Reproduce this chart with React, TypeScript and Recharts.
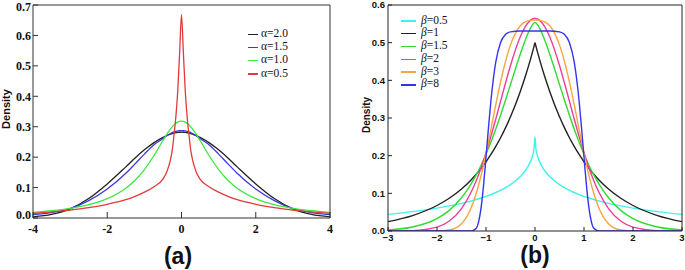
import { LineChart, Line, XAxis, YAxis, Legend } from 'recharts'

// (a) stable densities
const xA = [-4, -3.5, -3, -2.5, -2, -1.5, -1.25, -1, -0.75, -0.5, -0.4, -0.3, -0.25, -0.2, -0.15, -0.1, -0.05, 0,
  0.05, 0.1, 0.15, 0.2, 0.25, 0.3, 0.4, 0.5, 0.75, 1, 1.25, 1.5, 2, 2.5, 3, 3.5, 4]
const alpha20 = [0.004, 0.012, 0.03, 0.064, 0.112, 0.168, 0.197, 0.224, 0.247, 0.265, 0.271, 0.2755, 0.2775, 0.279, 0.2803, 0.2812, 0.2818, 0.282,
  0.2818, 0.2812, 0.2803, 0.279, 0.2775, 0.2755, 0.271, 0.265, 0.247, 0.224, 0.197, 0.168, 0.112, 0.064, 0.03, 0.012, 0.004]
const alpha15 = [0.011, 0.018, 0.031, 0.057, 0.095, 0.147, 0.178, 0.21, 0.24, 0.261, 0.2705, 0.2775, 0.2805, 0.283, 0.285, 0.2862, 0.2868, 0.287,
  0.2868, 0.2862, 0.285, 0.283, 0.2805, 0.2775, 0.2705, 0.261, 0.24, 0.21, 0.178, 0.147, 0.095, 0.057, 0.031, 0.018, 0.011]
const alpha10 = [0.0187, 0.024, 0.0318, 0.0439, 0.0637, 0.0979, 0.1242, 0.1592, 0.2037, 0.2546, 0.2744, 0.292, 0.2996, 0.3061, 0.3113, 0.3152, 0.3175, 0.3183,
  0.3175, 0.3152, 0.3113, 0.3061, 0.2996, 0.292, 0.2744, 0.2546, 0.2037, 0.1592, 0.1242, 0.0979, 0.0637, 0.0439, 0.0318, 0.024, 0.0187]
const alpha05 = [0.015, 0.02, 0.026, 0.034, 0.045, 0.06, 0.071, 0.085, 0.102, 0.128, 0.15, 0.19, 0.222, 0.275, 0.335, 0.42, 0.545, 0.668,
  0.545, 0.42, 0.335, 0.275, 0.222, 0.19, 0.15, 0.128, 0.102, 0.085, 0.071, 0.06, 0.045, 0.034, 0.026, 0.02, 0.015]
const alphaNames = ['α=2.0', 'α=1.5', 'α=1.0', 'α=0.5']
const alphaColors = ['#222222', '#3a3ad6', '#3ce83c', '#e23a3a']
const ticksAX = [-4, -2, 0, 2, 4]
const ticksAY = [0, 0.1, 0.2, 0.3, 0.4, 0.5, 0.6, 0.7]

// (b) generalized normal densities
const xB = [-3, -2.5, -2, -1.75, -1.5, -1.3, -1.2, -1.15, -1.1, -1.05, -1, -0.95, -0.9, -0.8, -0.7, -0.6, -0.5, -0.3, -0.2, -0.1, -0.05, -0.02, 0,
  0.02, 0.05, 0.1, 0.2, 0.3, 0.5, 0.6, 0.7, 0.8, 0.9, 0.95, 1, 1.05, 1.1, 1.15, 1.2, 1.3, 1.5, 1.75, 2, 2.5, 3]
const beta05 = [0.0442, 0.0514, 0.0608, 0.0666, 0.0734, 0.0799, 0.0836, 0.0856, 0.0876, 0.0897, 0.092, 0.0943, 0.0968, 0.1022, 0.1083, 0.1152, 0.1233, 0.1446, 0.1599, 0.1822, 0.1999, 0.217, 0.25,
  0.217, 0.1999, 0.1822, 0.1599, 0.1446, 0.1233, 0.1152, 0.1083, 0.1022, 0.0968, 0.0943, 0.092, 0.0897, 0.0876, 0.0856, 0.0836, 0.0799, 0.0734, 0.0666, 0.0608, 0.0514, 0.0442]
const beta1 = [0.0249, 0.041, 0.0677, 0.0869, 0.1116, 0.1363, 0.1506, 0.1583, 0.1664, 0.1749, 0.1839, 0.1934, 0.2033, 0.2247, 0.2483, 0.2744, 0.3033, 0.3704, 0.4094, 0.4524, 0.4756, 0.4901, 0.5,
  0.4901, 0.4756, 0.4524, 0.4094, 0.3704, 0.3033, 0.2744, 0.2483, 0.2247, 0.2033, 0.1934, 0.1839, 0.1749, 0.1664, 0.1583, 0.1506, 0.1363, 0.1116, 0.0869, 0.0677, 0.041, 0.0249]
const beta15 = [0.0031, 0.0106, 0.0327, 0.0547, 0.0882, 0.1258, 0.1488, 0.1614, 0.1747, 0.1889, 0.2038, 0.2194, 0.2358, 0.2708, 0.3084, 0.348, 0.389, 0.47, 0.5065, 0.5367, 0.5477, 0.5523, 0.5539,
  0.5523, 0.5477, 0.5367, 0.5065, 0.47, 0.389, 0.348, 0.3084, 0.2708, 0.2358, 0.2194, 0.2038, 0.1889, 0.1747, 0.1614, 0.1488, 0.1258, 0.0882, 0.0547, 0.0327, 0.0106, 0.0031]
const beta2 = [0.0001, 0.0011, 0.0103, 0.0264, 0.0595, 0.1041, 0.1337, 0.1503, 0.1682, 0.1873, 0.2076, 0.2288, 0.251, 0.2975, 0.3456, 0.3936, 0.4394, 0.5156, 0.5421, 0.5586, 0.5628, 0.564, 0.5642,
  0.564, 0.5628, 0.5586, 0.5421, 0.5156, 0.4394, 0.3936, 0.3456, 0.2975, 0.251, 0.2288, 0.2076, 0.1873, 0.1682, 0.1503, 0.1337, 0.1041, 0.0595, 0.0264, 0.0103, 0.0011, 0.0001]
const beta3 = [0, 0, 0.0002, 0.0026, 0.0192, 0.0622, 0.0995, 0.1224, 0.1479, 0.1759, 0.206, 0.2375, 0.2701, 0.3355, 0.3973, 0.4511, 0.4941, 0.545, 0.5554, 0.5593, 0.5598, 0.5599, 0.5599,
  0.5599, 0.5598, 0.5593, 0.5554, 0.545, 0.4941, 0.4511, 0.3973, 0.3355, 0.2701, 0.2375, 0.206, 0.1759, 0.1479, 0.1224, 0.0995, 0.0622, 0.0192, 0.0026, 0.0002, 0, 0]
const beta8 = [0, 0, 0, 0, 0, 0.0002, 0.0072, 0.0249, 0.0622, 0.1212, 0.1953, 0.2734, 0.3452, 0.4489, 0.5012, 0.5221, 0.5288, 0.5309, 0.5309, 0.5309, 0.5309, 0.5309, 0.5309,
  0.5309, 0.5309, 0.5309, 0.5309, 0.5309, 0.5288, 0.5221, 0.5012, 0.4489, 0.3452, 0.2734, 0.1953, 0.1212, 0.0622, 0.0249, 0.0072, 0.0002, 0, 0, 0, 0, 0]
const betaNames = ['β=0.5', 'β=1', 'β=1.5', 'β=2', 'β=3', 'β=8']
const betaColors = ['#3ef2f2', '#222222', '#2fdc2f', '#ea3f9a', '#f6a540', '#3434ee']
const ticksBX = [-3, -2, -1, 0, 1, 2, 3]
const ticksBY = [0, 0.1, 0.2, 0.3, 0.4, 0.5, 0.6]

// minor tick positions for the IDL-style panel
const minorAX = Array.from({ length: 17 }, (_, i) => -4 + i * 0.5)
const minorAY = Array.from({ length: 71 }, (_, i) => i / 100)

const rowsA = xA.map((x, i) => ({ x, a20: alpha20[i], a15: alpha15[i], a10: alpha10[i], a05: alpha05[i] }))
const seriesA = ['a20', 'a15', 'a10', 'a05']

const rowsB = xB.map((x, i) => ({ x, b05: beta05[i], b1: beta1[i], b15: beta15[i], b2: beta2[i], b3: beta3[i], b8: beta8[i] }))
const seriesB = ['b05', 'b1', 'b15', 'b2', 'b3', 'b8']

const serif = '"Liberation Serif", "Times New Roman", serif'
const sans = '"Liberation Sans", Arial, sans-serif'

const byOrder = (names: string[], payload: any[]) =>
  names.map(n => (payload || []).find((p: any) => p.value === n)).filter(Boolean)

const LegendA = ({ payload }: any) => (
  <div style={{ fontFamily: serif, fontSize: 11.5, color: '#111' }}>
    {byOrder(alphaNames, payload).map((p: any) => (
      <div key={p.value} style={{ height: 13.2, lineHeight: '13.2px', whiteSpace: 'nowrap' }}>
        <span style={{ display: 'inline-block', width: 10, height: 1.5, background: alphaColors[alphaNames.indexOf(p.value)], verticalAlign: 'middle', marginRight: 3 }} />
        {p.value}
      </div>
    ))}
  </div>
)

const LegendB = ({ payload }: any) => (
  <div style={{ fontFamily: serif, fontSize: 11.5, color: '#111' }}>
    {byOrder(betaNames, payload).map((p: any) => (
      <div key={p.value} style={{ height: 12.8, lineHeight: '12.8px', whiteSpace: 'nowrap' }}>
        <span style={{ display: 'inline-block', width: 15, height: 1.5, background: betaColors[betaNames.indexOf(p.value)], verticalAlign: 'middle', marginRight: 5 }} />
        <span style={{ fontStyle: 'italic' }}>{p.value.slice(0, 1)}</span>
        {p.value.slice(1)}
      </div>
    ))}
  </div>
)

// IDL places the end labels of the y axis slightly inside the box
const TickAY = ({ x, y, payload }: any) => {
  const v = payload.value
  const shift = v === 0.7 ? 2 : v === 0 ? -3 : 0
  return (
    <text x={x} y={y + shift} dy="0.355em" textAnchor="end" fill="#111"
      fontFamily={serif} fontSize={12} fontWeight="bold">{v.toFixed(1)}</text>
  )
}

const fmtMinus = (v: number) => (v < 0 ? '\u2212' + Math.abs(v) : String(v))

export default function App() {
  const axA = '#333'
  const axB = '#222'
  return (
    <div style={{ position: 'absolute', left: 0, top: 0, width: 685, height: 270, background: '#fff', overflow: 'hidden' }}>
      <div style={{ position: 'absolute', left: 0, top: 0 }}>
        <LineChart width={340} height={270} data={rowsA} margin={{ top: 3, right: 8, left: 31, bottom: 50 }}>
          <XAxis dataKey="x" type="number" domain={[-4, 4]} allowDataOverflow ticks={ticksAX} interval={0}
            height={1} tickSize={-6} tickMargin={12} stroke={axA}
            tick={{ fill: '#111', fontFamily: serif, fontSize: 12, fontWeight: 'bold' }} tickLine={{ stroke: axA }} />
          <XAxis xAxisId="am" dataKey="x" type="number" domain={[-4, 4]} allowDataOverflow ticks={minorAX} interval={0}
            height={1} tickSize={-3} tick={false} axisLine={false} tickLine={{ stroke: axA }} />
          <XAxis xAxisId="at" orientation="top" dataKey="x" type="number" domain={[-4, 4]} allowDataOverflow ticks={ticksAX} interval={0}
            height={1} tickSize={-6} tick={false} stroke={axA} tickLine={{ stroke: axA }} />
          <XAxis xAxisId="atm" orientation="top" dataKey="x" type="number" domain={[-4, 4]} allowDataOverflow ticks={minorAX} interval={0}
            height={1} tickSize={-3} tick={false} axisLine={false} tickLine={{ stroke: axA }} />
          <YAxis type="number" domain={[0, 0.7]} allowDataOverflow ticks={ticksAY} interval={0}
            width={1} tickSize={-5} tickMargin={7} stroke={axA} tick={<TickAY />} tickLine={{ stroke: axA }} />
          <YAxis yAxisId="am" type="number" domain={[0, 0.7]} allowDataOverflow ticks={minorAY} interval={0}
            width={1} tickSize={-2.5} tick={false} axisLine={false} tickLine={{ stroke: axA }} />
          <YAxis yAxisId="ar" orientation="right" type="number" domain={[0, 0.7]} allowDataOverflow ticks={ticksAY} interval={0}
            width={1} tickSize={-5} tick={false} stroke={axA} tickLine={{ stroke: axA }} />
          <YAxis yAxisId="arm" orientation="right" type="number" domain={[0, 0.7]} allowDataOverflow ticks={minorAY} interval={0}
            width={1} tickSize={-2.5} tick={false} axisLine={false} tickLine={{ stroke: axA }} />
          {seriesA.map((key, i) => (
            <Line key={key} dataKey={key} name={alphaNames[i]} type="monotone" stroke={alphaColors[i]}
              strokeWidth={1.3} dot={false} activeDot={false} isAnimationActive={false} />
          ))}
          <Legend layout="vertical" align="center" verticalAlign="middle" content={<LegendA />}
            wrapperStyle={{ left: 248, top: 27, width: 'auto' }} />
        </LineChart>
      </div>

      <div style={{ position: 'absolute', left: 340, top: 0 }}>
        <LineChart width={345} height={270} data={rowsB} margin={{ top: 4, right: 2, left: 47, bottom: 38 }}>
          <XAxis dataKey="x" type="number" domain={[-3, 3]} allowDataOverflow ticks={ticksBX} interval={0}
            height={1} tickSize={-4} tickMargin={7.5} stroke={axB} tickFormatter={fmtMinus}
            tick={{ fill: '#111', fontFamily: sans, fontSize: 9.5, fontWeight: 'bold' }} tickLine={{ stroke: axB }} />
          <XAxis xAxisId="bt" orientation="top" dataKey="x" type="number" domain={[-3, 3]} allowDataOverflow ticks={ticksBX} interval={0}
            height={1} tickSize={-4} tick={false} stroke={axB} tickLine={{ stroke: axB }} />
          <YAxis type="number" domain={[0, 0.6]} allowDataOverflow ticks={ticksBY} interval={0}
            width={1} tickSize={-4} tickMargin={7} stroke={axB} tickFormatter={(v: number) => v.toFixed(1)}
            tick={{ fill: '#111', fontFamily: sans, fontSize: 9.5, fontWeight: 'bold' }} tickLine={{ stroke: axB }} />
          <YAxis yAxisId="br" orientation="right" type="number" domain={[0, 0.6]} allowDataOverflow ticks={ticksBY} interval={0}
            width={1} tickSize={-4} tick={false} stroke={axB} tickLine={{ stroke: axB }} />
          {seriesB.map((key, i) => (
            <Line key={key} dataKey={key} name={betaNames[i]} type="monotone" stroke={betaColors[i]}
              strokeWidth={1.4} dot={false} activeDot={false} isAnimationActive={false} />
          ))}
          <Legend layout="vertical" align="center" verticalAlign="middle" content={<LegendB />}
            wrapperStyle={{ left: 61, top: 13.5, width: 'auto' }} />
        </LineChart>
      </div>

      <div style={{ position: 'absolute', left: 6, top: 109, transform: 'translate(-50%, -50%) rotate(-90deg)',
        fontFamily: sans, fontWeight: 'bold', fontSize: 11, color: '#111', whiteSpace: 'nowrap' }}>Density</div>
      <div style={{ position: 'absolute', left: 366, top: 115, transform: 'translate(-50%, -50%) rotate(-90deg)',
        fontFamily: sans, fontWeight: 'bold', fontSize: 10, color: '#111', whiteSpace: 'nowrap' }}>Density</div>

      <div style={{ position: 'absolute', left: 148, top: 245, width: 60, textAlign: 'center', lineHeight: '22px',
        fontFamily: sans, fontWeight: 'bold', fontSize: 23, color: '#111' }}>(a)</div>
      <div style={{ position: 'absolute', left: 505, top: 244, width: 60, textAlign: 'center', lineHeight: '22px',
        fontFamily: sans, fontWeight: 'bold', fontSize: 23, color: '#111' }}>(b)</div>
    </div>
  )
}
